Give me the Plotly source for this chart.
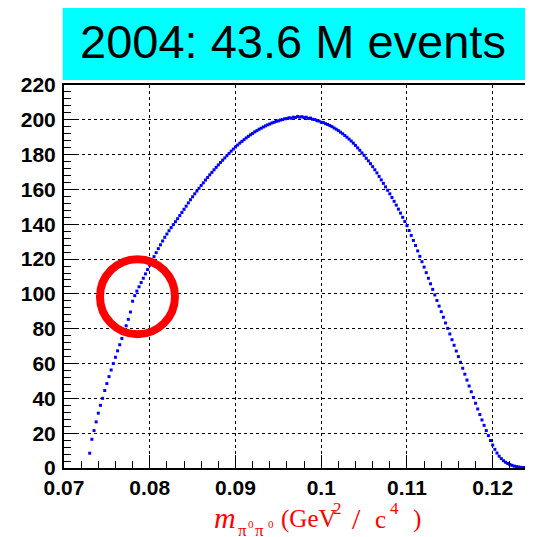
import numpy as np
import plotly.graph_objects as go

# ---------------- data ----------------
x_start = 0.0730        # first bin centre (GeV^2/c^4)
bin_width = 0.00025
counts = [
    8.5, 16.5, 21.5, 26.5,
    31.5, 36, 40, 44.5,
    48.5, 52.5, 56.3, 60,
    63.6, 67.3, 70.8, 74.4,
    78, 81.7, 85.4, 89.6,
    95.8, 99, 101.6, 104.1,
    106.5, 109, 111.5, 114,
    116.5, 119, 121.4, 123.7,
    126, 128.2, 130.4, 132.5,
    134.4, 136.3, 138.1, 139.8,
    141.5, 143.2, 145, 146.8,
    148.6, 150.4, 152.3, 154.1,
    155.8, 157.5, 159.1, 160.7,
    162.3, 163.8, 165.4, 166.9,
    168.4, 169.8, 171.3, 172.7,
    174.1, 175.5, 176.8, 178.1,
    179.4, 180.7, 182, 183.2,
    184.4, 185.5, 186.6, 187.6,
    188.6, 189.6, 190.5, 191.4,
    192.2, 193.1, 193.8, 194.6,
    195.2, 195.9, 196.5, 197.1,
    197.6, 198.2, 198.6, 199.1,
    199.4, 199.9, 200.1, 200.6,
    200.7, 201.2, 200.9, 201.5,
    201.3, 201.9, 201.5, 201.8,
    201.2, 201.5, 200.8, 201,
    200.3, 200.2, 199.5, 199.3,
    198.6, 198.4, 197.8, 197.3,
    196.7, 196.1, 195.3, 194.6,
    193.8, 192.9, 192, 191,
    190, 188.9, 187.8, 186.6,
    185.3, 183.9, 182.5, 181,
    179.6, 177.9, 176.4, 174.8,
    173.1, 171.3, 169.5, 167.5,
    165.5, 163.5, 161.5, 159.5,
    157.5, 155.4, 153.2, 151,
    148.7, 146.4, 144, 141.6,
    139.2, 136.4, 133.6, 130.7,
    127.8, 124.7, 121.6, 118.5,
    115.4, 112.2, 109, 105.8,
    102.6, 99.4, 96.2, 93,
    89.8, 86.6, 83.3, 80.2,
    77, 73.7, 70.5, 67.2,
    64, 60.7, 57.3, 53.9,
    50.5, 47.1, 43.8, 40.5,
    37.2, 33.9, 30.7, 27.6,
    24.5, 21.5, 18.6, 15.8,
    13.2, 10.7, 8.6, 6.8,
    5.4, 4.2, 3.3, 2.6,
    2, 1.5, 1.1, 0.8,
    0.6, 0.4, 0.3, 0.25,
    0.2, 0.15, 0.1, 0.1,
]
x_tick_vals = [0.07, 0.08, 0.09, 0.10, 0.11, 0.12]
x_tick_text = ["0.07", "0.08", "0.09", "0.1", "0.11", "0.12"]
y_tick_vals = [0, 20, 40, 60, 80, 100, 120, 140, 160, 180, 200, 220]
y_tick_text = [str(v) for v in y_tick_vals]
title_text = "2004: 43.6 M events"
cusp_x = 0.07857
cusp_y = 98.4

x_vals = x_start + bin_width * np.arange(len(counts))

# page geometry (browser body has an 8px margin; the figure is sized to fit)
PAGE_OFF = 8
FIG_W, FIG_H = 533 - PAGE_OFF, 537 - PAGE_OFF
PLOT_L, PLOT_R, PLOT_T, PLOT_B = 64, 533, 85, 468.3   # in page pixels


def px_to_paper(px, py):
    return (px - PLOT_L) / (PLOT_R - PLOT_L), (PLOT_B - py) / (PLOT_B - PLOT_T)


fig = go.Figure()
fig.add_trace(go.Scatter(
    x=x_vals, y=counts, mode="markers",
    marker=dict(symbol="square", size=3, color="#0000FF", line=dict(width=0)),
    showlegend=False, cliponaxis=True,
))

tickfont = dict(family="Liberation Sans, Arial, sans-serif", size=21, color="black", weight="bold")

fig.update_layout(
    width=FIG_W, height=FIG_H,
    margin=dict(l=PLOT_L - PAGE_OFF, r=0, t=PLOT_T - PAGE_OFF, b=round(537 - PLOT_B)),
    paper_bgcolor="white", plot_bgcolor="white",
    xaxis=dict(
        range=[0.07, 0.1247], tickmode="array", tickvals=x_tick_vals, ticktext=x_tick_text,
        ticks="inside", ticklen=13, tickwidth=1, tickcolor="black",
        minor=dict(dtick=0.002, tick0=0.07, ticks="inside", ticklen=7, tickcolor="black", showgrid=False),
        showgrid=True, gridcolor="black", gridwidth=1, griddash="dot",
        showline=True, linecolor="black", linewidth=2, mirror=True,
        zeroline=False, tickfont=tickfont, automargin=False,
    ),
    yaxis=dict(
        range=[0, 220], tickmode="array", tickvals=y_tick_vals, ticktext=y_tick_text,
        ticks="inside", ticklen=13, tickwidth=1, tickcolor="black",
        minor=dict(dtick=4, tick0=0, ticks="inside", ticklen=7, tickcolor="black", showgrid=False),
        showgrid=True, gridcolor="black", gridwidth=1, griddash="dot",
        showline=True, linecolor="black", linewidth=2,
        zeroline=False, tickfont=tickfont, ticklabelstandoff=2, automargin=False,
    ),
)

# cyan title box
bx0, by1 = px_to_paper(62.7, 80)
bx1, by0 = px_to_paper(533, 1.5)
fig.add_shape(type="rect", xref="paper", yref="paper",
              x0=bx0, x1=bx1, y0=by1, y1=by0,
              fillcolor="#00FFFF", line=dict(width=0), layer="above")
tx, ty = px_to_paper(292.5, 58 - 0.35 * 47)
fig.add_annotation(xref="paper", yref="paper", x=tx, y=ty,
                   xanchor="center", yanchor="middle", showarrow=False,
                   text=title_text,
                   font=dict(family="Liberation Sans, Arial, sans-serif", size=47, color="black"))

# red circle around cusp
fig.add_shape(type="circle", xref="x", yref="y",
              xsizemode="pixel", ysizemode="pixel",
              xanchor=cusp_x, yanchor=cusp_y,
              x0=-37.5, x1=37.5, y0=-37.5, y1=37.5,
              line=dict(color="#FF0000", width=8), layer="above")

# x-axis title, built from pieces (text, left px, baseline px, font size, italic)
title_pieces = [
    ("m", 214, 528.3, 30, True),
    ("π", 237.5, 536.5, 17, False),
    ("0", 248, 528.3, 11, False),
    ("π", 254.5, 536.5, 17, False),
    ("0", 267.5, 528.3, 11, False),
    ("(GeV", 281, 528.3, 25, False),
    ("2", 333, 515, 17, False),
    ("/", 352, 529, 30, False),
    ("c", 374.5, 528.3, 25, False),
    ("4", 389.5, 515, 17, False),
    (")", 413, 528.3, 25, False),
]
for txt, left, base, size, ital in title_pieces:
    ax, ay = px_to_paper(left - 2, base - 0.34 * size)
    fig.add_annotation(xref="paper", yref="paper", x=ax, y=ay,
                       xanchor="left", yanchor="middle", showarrow=False,
                       text=f"<i>{txt}</i>" if ital else txt,
                       font=dict(family="Liberation Serif, Times New Roman, serif", size=size, color="#FF0000"))

fig.write_html("out.html")
